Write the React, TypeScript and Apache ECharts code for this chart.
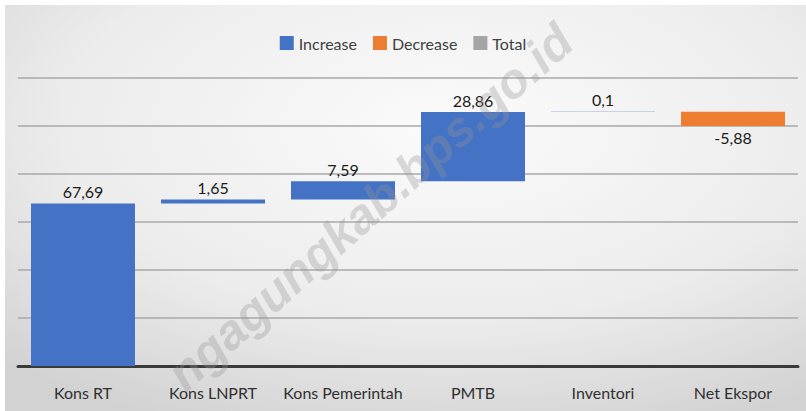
import React, { useEffect, useRef } from "react";
import * as echarts from "echarts";

const categories = ["Kons RT", "Kons LNPRT", "Kons Pemerintah", "PMTB", "Inventori", "Net Ekspor"];
const changes = [67.69, 1.65, 7.59, 28.86, 0.1, -5.88];
const legendNames = ["Increase", "Decrease", "Total"];
const yTicks = { min: 0, max: 120, interval: 20 };
const watermark = "ngagungkab.bps.go.id";

const fmt = (v: number) => String(v).replace(".", ",");

export default function App() {
  const ref = useRef<HTMLDivElement>(null);
  useEffect(() => {
    document.body.style.margin = "0";
    if (!ref.current) return;
    const chart = echarts.init(ref.current, null, { renderer: "svg" });
    const base: number[] = [];
    const inc: (number | string)[] = [];
    const dec: (number | string)[] = [];
    let cum = 0;
    changes.forEach((v) => {
      if (v >= 0) {
        base.push(cum);
        inc.push(v);
        dec.push("-");
      } else {
        base.push(cum + v);
        inc.push("-");
        dec.push(-v);
      }
      cum += v;
    });
    const font = "Lato, 'Open Sans', sans-serif";
    chart.setOption({
      animation: false,
      textStyle: { fontFamily: font },
      graphic: [
        {
          type: "rect",
          z: -100,
          silent: true,
          shape: { x: 5, y: 5, width: 801, height: 406 },
          style: {
            fill: new echarts.graphic.RadialGradient(0.55, 0.3, 0.8, [
              { offset: 0, color: "#fbfbfb" },
              { offset: 0.6, color: "#ececec" },
              { offset: 1, color: "#d2d2d2" },
            ]),
          },
        },
        {
          type: "text",
          z: 100,
          silent: true,
          x: 370,
          y: 207,
          rotation: (41.6 * Math.PI) / 180,
          style: {
            text: watermark,
            fontSize: 49,
            fontWeight: "bold",
            fontStyle: "italic",
            fontFamily: "'Liberation Sans', Arial, sans-serif",
            fill: "rgba(150,150,150,0.33)",
            align: "center",
            verticalAlign: "middle",
          },
        },
      ],
      legend: {
        data: legendNames,
        top: 30,
        left: "center",
        itemWidth: 14,
        itemHeight: 14,
        itemGap: 16,
        icon: "rect",
        textStyle: { fontSize: 16, color: "#404040", fontFamily: font },
        selectedMode: false,
      },
      grid: { left: 18, right: 8, top: 78, bottom: 45 },
      xAxis: {
        type: "category",
        data: categories,
        axisLine: { lineStyle: { color: "#3a3a3a", width: 3 } },
        axisTick: { show: false },
        axisLabel: { fontSize: 16, color: "#303030", margin: 18, interval: 0 },
      },
      yAxis: {
        type: "value",
        min: yTicks.min,
        max: yTicks.max,
        interval: yTicks.interval,
        axisLabel: { show: false },
        axisLine: { show: false },
        axisTick: { show: false },
        splitLine: { lineStyle: { color: "#a8a8a8", width: 1.5 } },
      },
      series: [
        {
          name: "base",
          type: "bar",
          stack: "w",
          data: base,
          itemStyle: { color: "transparent" },
          barCategoryGap: "20%",
          silent: true,
        },
        {
          name: "Increase",
          type: "bar",
          stack: "w",
          data: inc,
          itemStyle: { color: "#4472C4" },
          label: {
            show: true,
            position: "top",
            distance: 4,
            fontSize: 16,
            color: "#1a1a1a",
            formatter: (p: any) => fmt(p.value),
          },
        },
        {
          name: "Decrease",
          type: "bar",
          stack: "w",
          data: dec,
          itemStyle: { color: "#ED7D31" },
          label: {
            show: true,
            position: "bottom",
            distance: 4,
            fontSize: 16,
            color: "#1a1a1a",
            formatter: (p: any) => "-" + fmt(p.value),
          },
        },
        {
          name: "Total",
          type: "bar",
          stack: "w",
          data: [],
          itemStyle: { color: "#A5A5A5" },
        },
      ],
    });
    return () => chart.dispose();
  }, []);
  return <div ref={ref} style={{ width: 806, height: 411 }} />;
}
